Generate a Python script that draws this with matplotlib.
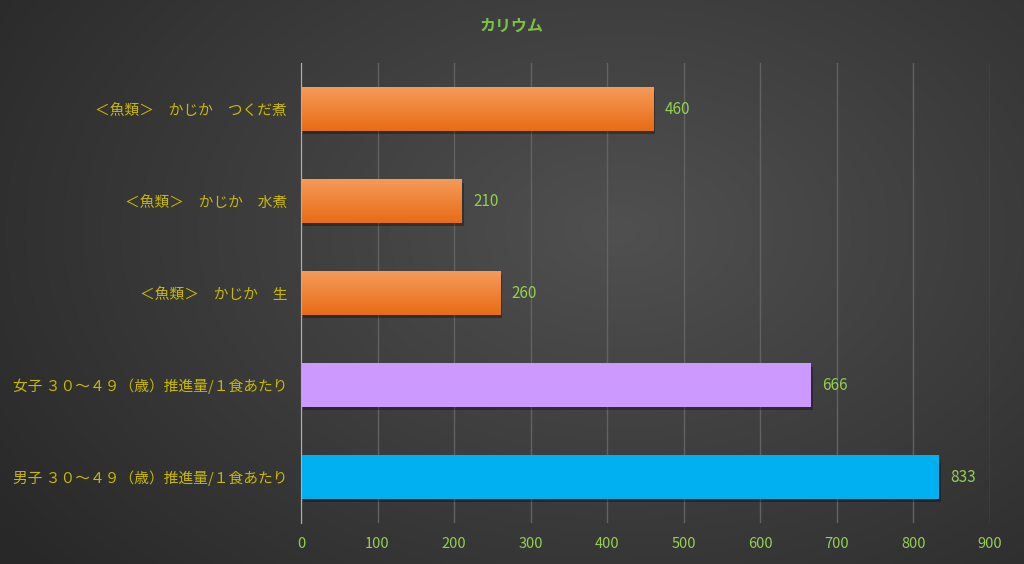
import numpy as np
import matplotlib
matplotlib.use("Agg")
import matplotlib.pyplot as plt
from matplotlib.colors import LinearSegmentedColormap
import matplotlib.patches as mpatches

plt.rcParams['font.family'] = ['Noto Sans CJK JP', 'DejaVu Sans']

title = "カリウム"
categories = [
    "＜魚類＞　かじか　つくだ煮",
    "＜魚類＞　かじか　水煮",
    "＜魚類＞　かじか　生",
    "女子 ３０～４９（歳）推進量/１食あたり",
    "男子 ３０～４９（歳）推進量/１食あたり",
]
values = [460, 210, 260, 666, 833]
bar_colors = ["#f07b2a", "#f07b2a", "#f07b2a", "#cc99ff", "#00b0f0"]
gradient_bar = [True, True, True, False, False]
xticks = [0, 100, 200, 300, 400, 500, 600, 700, 800, 900]

fig = plt.figure(figsize=(10.24, 5.64), dpi=100)

# background radial gradient
bg = fig.add_axes([0, 0, 1, 1], zorder=-10)
yy, xx = np.mgrid[0:564, 0:1024]
d = np.sqrt(((xx - 620) / 1024) ** 2 + ((yy - 230) / 700) ** 2)
d = np.clip(d / 0.75, 0, 1)
c0 = np.array([0x50, 0x50, 0x50]) / 255
c1 = np.array([0x28, 0x28, 0x28]) / 255
img = c0[None, None, :] * (1 - d[..., None]) + c1[None, None, :] * d[..., None]
bg.imshow(img, aspect='auto', extent=[0, 1, 0, 1])
bg.set_axis_off()

ax = fig.add_axes([301 / 1024, 1 - 523 / 564, (990 - 301) / 1024, (523 - 63) / 564])
ax.patch.set_alpha(0)

ypos = np.arange(len(categories))[::-1]
bars = ax.barh(ypos, values, height=0.47, color=bar_colors, zorder=3)

orange_cmap = LinearSegmentedColormap.from_list("o", ["#e86c16", "#f59a5a"])
for b, g, v in zip(bars, gradient_bar, values):
    x0, y0, w, h = b.get_x(), b.get_y(), b.get_width(), b.get_height()
    # shadow
    sh = mpatches.Rectangle((x0 + 3, y0 - 0.04), w, h, color="black", alpha=0.3, zorder=2, lw=0)
    ax.add_patch(sh)
    if g:
        grad = np.linspace(0, 1, 100).reshape(-1, 1)
        im = ax.imshow(grad, cmap=orange_cmap, extent=[x0, x0 + w, y0, y0 + h],
                       aspect='auto', origin='lower', zorder=3.5)
        im.set_clip_path(b)
    ax.text(v + 15, b.get_y() + h / 2, str(v), va='center', ha='left',
            color="#92d050", fontsize=11, zorder=5)

ax.set_xlim(0, 900)
ax.set_ylim(-0.5, len(categories) - 0.5)
ax.set_xticks(xticks)
ax.set_xticklabels([str(t) for t in xticks], color="#92d050", fontsize=10.5)
ax.set_yticks(ypos)
ax.set_yticklabels(categories, color="#c9b800", fontsize=10.6)
ax.tick_params(axis='y', length=0, pad=10)
ax.tick_params(axis='x', length=0, pad=10)
ax.grid(axis='x', color="#626262", lw=1, zorder=0)
for s in ['top', 'right', 'bottom']:
    ax.spines[s].set_visible(False)
ax.spines['left'].set_color("#b0b0b0")
ax.spines['left'].set_zorder(4)

fig.text(512 / 1024, 1 - 26 / 564, title, ha='center', va='center',
         color="#7ac143", fontsize=11.5, fontweight='bold')

fig.savefig("out.png", dpi=100)
